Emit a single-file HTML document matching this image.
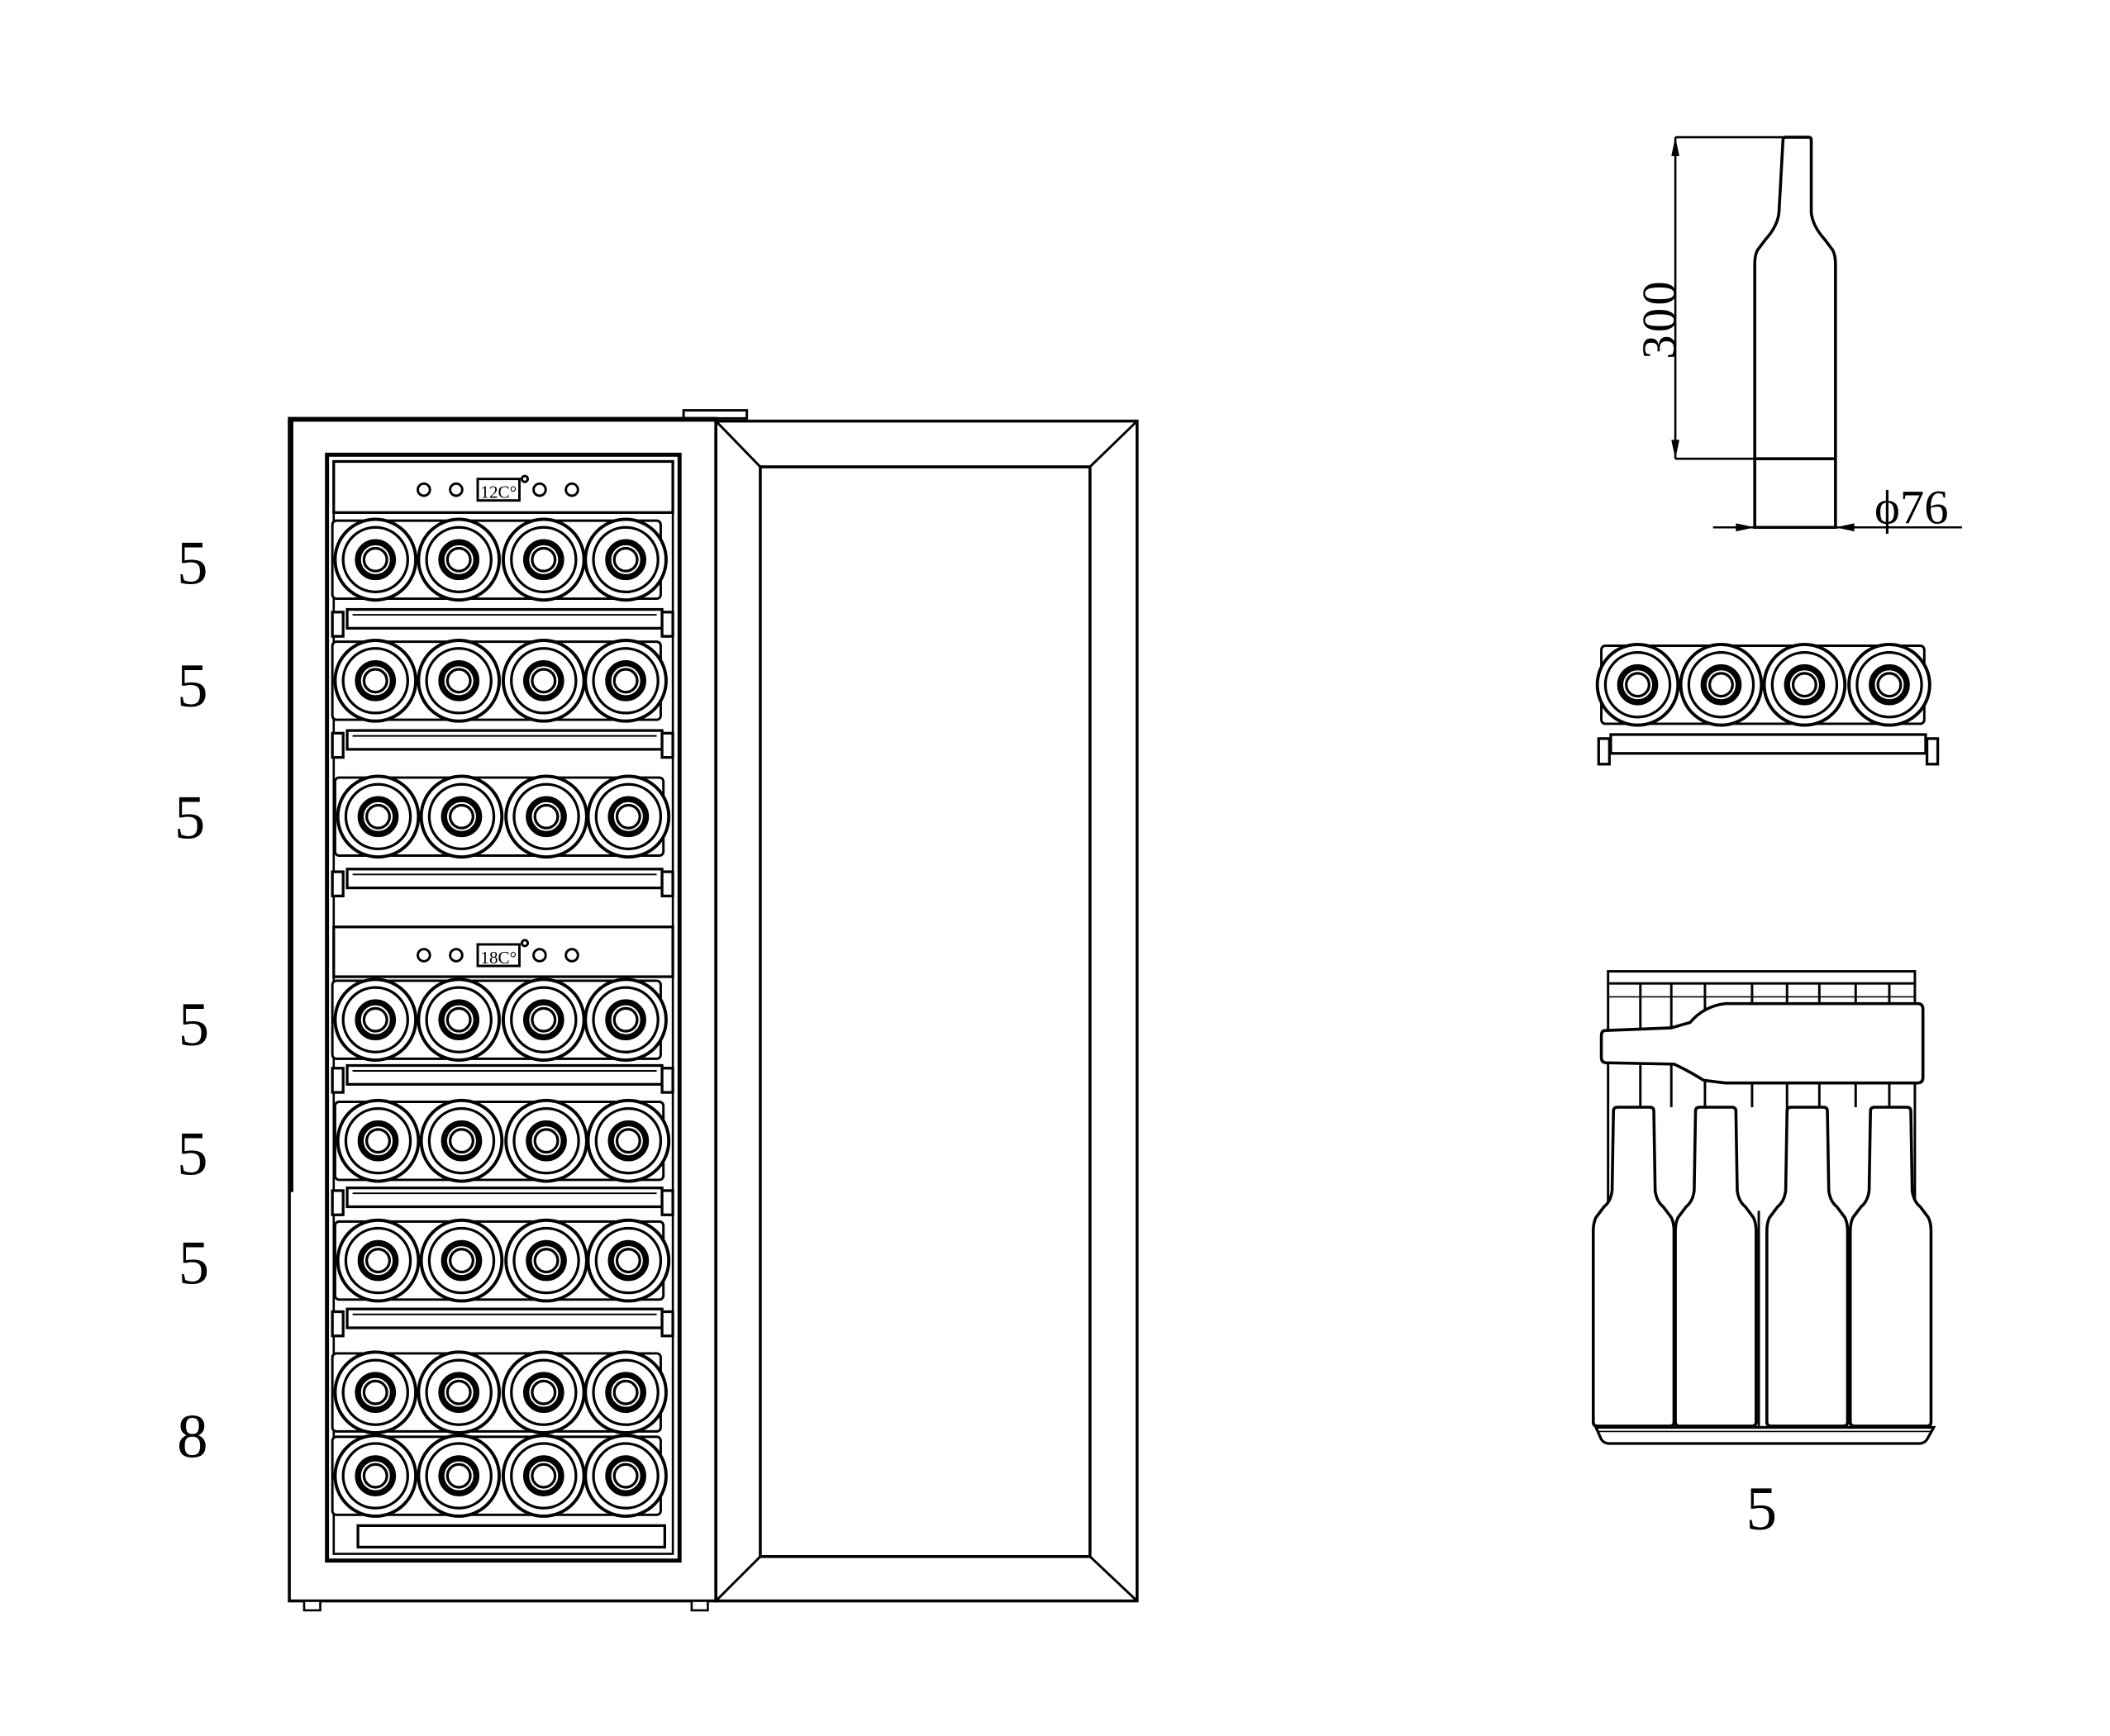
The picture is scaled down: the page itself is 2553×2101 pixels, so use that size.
<!DOCTYPE html>
<html><head><meta charset="utf-8"><style>html,body{margin:0;padding:0;background:#fff}svg{display:block}</style></head>
<body>
<svg width="2553" height="2101" viewBox="0 0 1568 1290.4" preserveAspectRatio="none" xmlns="http://www.w3.org/2000/svg" font-family="Liberation Serif, serif">
<defs>
<g id="b" fill="#fff" stroke="#000">
<circle r="30" stroke-width="2.4"/>
<circle r="24" stroke-width="2"/>
<circle r="13" stroke-width="4.5"/>
<circle r="8.5" stroke-width="2"/>
</g>
<g id="row">
<rect x="-32" y="-29" width="244" height="58" rx="3" fill="#fff" stroke="#000" stroke-width="1.8"/>
<use href="#b" x="0"/><use href="#b" x="62"/><use href="#b" x="125"/><use href="#b" x="186"/>
</g>
<g id="rail" fill="#fff" stroke="#000" stroke-width="2">
<rect x="258" y="0" width="234" height="14"/>
<line x1="262" y1="4" x2="488" y2="4" stroke-width="1.2"/>
<rect x="247" y="2" width="8" height="18"/>
<rect x="492" y="2" width="8" height="18"/>
</g>
<g id="sb" fill="#fff" stroke="#000" stroke-width="2.2">
<path d="M15 3 Q15 0 18 0 L42 0 Q45 0 45 3 L46 62 Q47 70 52 74 L58 82 Q60 86 60 92 L60 234 Q60 237 57 237 L3 237 Q0 237 0 234 L0 92 Q0 86 2 82 L8 74 Q13 70 14 62 Z"/>
</g>
</defs>

<g font-size="46" text-anchor="middle">
<text x="143" y="434">5</text>
<text x="143" y="525">5</text>
<text x="141" y="623">5</text>
<text x="144" y="777">5</text>
<text x="143" y="873">5</text>
<text x="144" y="954">5</text>
<text x="143" y="1083">8</text>
</g>

<rect x="508" y="305" width="47" height="6" fill="#fff" stroke="#000" stroke-width="1.8"/>
<rect x="215" y="311" width="317" height="879" fill="#fff" stroke="#000" stroke-width="2.2"/>
<line x1="216" y1="312" x2="216" y2="886" stroke="#000" stroke-width="4"/>
<line x1="215" y1="312" x2="532" y2="312" stroke="#000" stroke-width="3"/>
<rect x="226" y="1190" width="12" height="7" fill="#fff" stroke="#000" stroke-width="1.6"/>
<rect x="514" y="1190" width="12" height="7" fill="#fff" stroke="#000" stroke-width="1.6"/>
<rect x="243" y="338" width="262" height="822" fill="#fff" stroke="#000" stroke-width="3"/>
<rect x="248" y="343" width="252" height="812" fill="none" stroke="#000" stroke-width="1.6"/>

<rect x="248" y="343" width="252" height="38" fill="#fff" stroke="#000" stroke-width="2"/>
<g fill="none" stroke="#000" stroke-width="1.8">
<circle cx="315" cy="364" r="4.5"/><circle cx="339" cy="364" r="4.5"/>
<circle cx="401" cy="364" r="4.5"/><circle cx="425" cy="364" r="4.5"/>
<circle cx="390" cy="356" r="2.2"/>
<rect x="355" y="356" width="31" height="16"/>
<circle cx="315" cy="710" r="4.5"/><circle cx="339" cy="710" r="4.5"/>
<circle cx="401" cy="710" r="4.5"/><circle cx="425" cy="710" r="4.5"/>
<circle cx="390" cy="701" r="2.2"/>
<rect x="355" y="702" width="31" height="16"/>
</g>
<text x="370.5" y="370" font-size="13" text-anchor="middle">12C°</text>
<rect x="248" y="689" width="252" height="37" fill="none" stroke="#000" stroke-width="2"/>
<text x="370.5" y="716" font-size="13" text-anchor="middle">18C°</text>

<use href="#row" x="279" y="416"/>
<use href="#rail" y="453"/>
<use href="#row" x="279" y="506"/>
<use href="#rail" y="543"/>
<use href="#row" x="281" y="607"/>
<use href="#rail" y="646"/>
<use href="#row" x="279" y="758"/>
<use href="#rail" y="792"/>
<use href="#row" x="281" y="848"/>
<use href="#rail" y="883"/>
<use href="#row" x="281" y="937"/>
<use href="#rail" y="973"/>
<use href="#row" x="279" y="1035"/>
<use href="#row" x="279" y="1097"/>
<rect x="266" y="1134" width="228" height="16" fill="#fff" stroke="#000" stroke-width="2"/>

<rect x="532" y="313" width="313" height="877" fill="#fff" stroke="#000" stroke-width="2.2"/>
<rect x="565" y="347" width="245" height="810" fill="#fff" stroke="#000" stroke-width="2.2"/>
<g stroke="#000" stroke-width="1.8">
<line x1="532" y1="313" x2="565" y2="347"/><line x1="845" y1="313" x2="810" y2="347"/>
<line x1="532" y1="1190" x2="565" y2="1157"/><line x1="845" y1="1190" x2="810" y2="1157"/>
</g>

<g stroke="#000" stroke-width="1.6" fill="none">
<line x1="1245" y1="102" x2="1327" y2="102"/>
<line x1="1245" y1="341" x2="1304" y2="341"/>
<line x1="1245" y1="102" x2="1245" y2="341"/>
<line x1="1304" y1="341" x2="1304" y2="392"/><line x1="1364" y1="341" x2="1364" y2="392"/>
<line x1="1273" y1="392" x2="1458" y2="392"/>
<path d="M1325 104 Q1325 102 1327 102 L1344 102 Q1346 102 1346 104 L1346 158 Q1347 168 1356 178 L1362 186 Q1364 190 1364 196 L1364 341 L1364 392 L1304 392 L1304 196 Q1304 190 1306 186 L1312 178 Q1321 168 1322 158 Z" stroke-width="2.2"/>
<line x1="1304" y1="341" x2="1364" y2="341" stroke-width="2.2"/>
</g>
<g fill="#000"><path d="M1245 102 l-3 14 h6 z"/><path d="M1245 341 l-3 -14 h6 z"/>
<path d="M1304 392 l-14 -3 v6 z"/><path d="M1364 392 l14 -3 v6 z"/></g>
<text transform="translate(1245 237) rotate(-90)" font-size="36" text-anchor="middle" letter-spacing="2">300</text>
<text x="1393" y="389" font-size="36">ϕ76</text>

<rect x="1190" y="480" width="240" height="58" rx="3" fill="#fff" stroke="#000" stroke-width="1.8"/>
<use href="#b" x="1217" y="509"/><use href="#b" x="1279" y="509"/><use href="#b" x="1341" y="509"/><use href="#b" x="1404" y="509"/>
<g fill="#fff" stroke="#000" stroke-width="2">
<rect x="1197" y="546" width="234" height="14"/>
<rect x="1188" y="549" width="8" height="19"/>
<rect x="1432" y="549" width="8" height="19"/>
</g>

<g stroke="#000" stroke-width="1.8" fill="none">
<rect x="1195" y="722" width="228" height="9"/>
<line x1="1195" y1="731" x2="1195" y2="900"/><line x1="1423" y1="731" x2="1423" y2="900"/>
<line x1="1219" y1="731" x2="1219" y2="823"/><line x1="1242" y1="731" x2="1242" y2="823"/>
<line x1="1267" y1="731" x2="1267" y2="900"/><line x1="1302" y1="731" x2="1302" y2="823"/>
<line x1="1328" y1="731" x2="1328" y2="900"/><line x1="1352" y1="731" x2="1352" y2="900"/>
<line x1="1379" y1="731" x2="1379" y2="823"/><line x1="1404" y1="731" x2="1404" y2="823"/>
<line x1="1195" y1="741" x2="1423" y2="741" stroke-width="1"/>
</g>
<path d="M1193 766 Q1190 766 1190 770 L1190 786 Q1190 790 1194 790 L1244 791 Q1255 796 1266 803 L1282 805 L1425 805 Q1429 805 1429 801 L1429 750 Q1429 746 1425 746 L1282 746 Q1266 748 1256 760 L1242 764 Z" fill="#fff" stroke="#000" stroke-width="2.2"/>
<line x1="1307" y1="900" x2="1307" y2="1060" stroke="#000" stroke-width="1.8"/>
<use href="#sb" x="1184" y="823"/>
<use href="#sb" x="1245" y="823"/>
<use href="#sb" x="1313" y="823"/>
<use href="#sb" x="1375" y="823"/>
<path d="M1186 1061 L1437 1061 L1432 1070 Q1430 1073 1426 1073 L1196 1073 Q1192 1073 1190 1070 Z" fill="#fff" stroke="#000" stroke-width="2"/>
<line x1="1188" y1="1064" x2="1436" y2="1064" stroke="#000" stroke-width="1"/>
<text x="1309" y="1137" font-size="46" text-anchor="middle">5</text>
</svg>
</body></html>
